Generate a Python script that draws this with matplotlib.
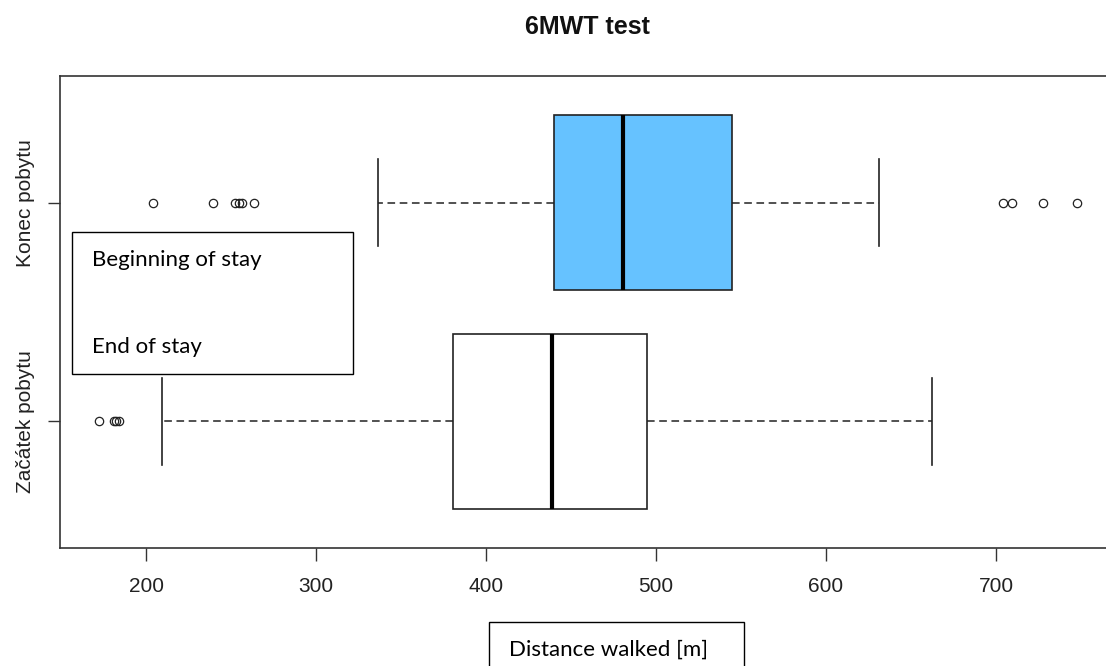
import matplotlib
matplotlib.use("Agg")
import matplotlib.pyplot as plt
from matplotlib.patches import Rectangle

W, H = 1106, 666

# 6MWT distances, summary per group (bottom row first)
groups = ["Začátek pobytu", "Konec pobytu"]
q1 = [380.6, 440.0]
median = [438.8, 480.6]
q3 = [494.7, 544.7]
whisker_lo = [209.2, 336.5]
whisker_hi = [662.5, 631.2]
outliers = [
    [172.4, 181.0, 182.5, 184.0],
    [204.0, 239.4, 252.5, 254.5, 256.5, 263.5, 704.1, 709.4, 727.6, 747.6],
]
box_colors = ["white", "#66C2FF"]
legend_labels = ["Beginning of stay", "End of stay"]
x_ticks = [200, 300, 400, 500, 600, 700]

plt.rcParams["font.family"] = ["Liberation Sans", "DejaVu Sans"]

fig = plt.figure(figsize=(W / 100, H / 100), dpi=100)


def fx(px):
    return px / W


def fy(py):
    return 1 - py / H


# plot region; right side runs past the edge of the canvas
ax = fig.add_axes([fx(60), fy(548), fx(1056), 472 / H])

stats = []
for i, name in enumerate(groups):
    stats.append(dict(label=name, q1=q1[i], med=median[i], q3=q3[i],
                      whislo=whisker_lo[i], whishi=whisker_hi[i],
                      fliers=outliers[i]))

line = dict(color="#222222", lw=1.2)
bp = ax.bxp(stats, positions=[1, 2], widths=0.8, capwidths=0.4, vert=False,
            patch_artist=True,
            boxprops=dict(edgecolor="#222222", lw=1.2),
            medianprops=dict(color="black", lw=3.0, solid_capstyle="butt"),
            whiskerprops=dict(color="#222222", lw=1.1, linestyle=(0, (5, 3))),
            capprops=line,
            flierprops=dict(marker="o", markerfacecolor="none",
                            markeredgecolor="#222222", markersize=6,
                            markeredgewidth=0.9, linestyle="none"))
for patch, c in zip(bp["boxes"], box_colors):
    patch.set_facecolor(c)

ax.set_xlim(149.4, 770.6)
ax.set_ylim(0.42, 2.58)
ax.set_xticks(x_ticks)
ax.set_xticklabels([str(t) for t in x_ticks])
ax.set_yticks([1, 2])
ax.set_yticklabels(groups, rotation=90, va="center")
ax.tick_params(axis="both", length=9, width=1, color="#333333",
               labelsize=15, labelcolor="#222222")
ax.tick_params(axis="x", pad=12)
ax.tick_params(axis="y", pad=9)
for s in ax.spines.values():
    s.set_color("#333333")
    s.set_linewidth(1.2)

fig.text(fx(587), fy(27), "6MWT test", ha="center", va="center",
         fontsize=18, fontweight="bold", color="#111111")

# legend panel
fig.add_artist(Rectangle((fx(72), fy(374)), fx(281), (374 - 232) / H,
                         transform=fig.transFigure, facecolor="white",
                         edgecolor="black", lw=1.0))
fig.text(fx(92), fy(266), legend_labels[0], ha="left", va="baseline",
         fontsize=16, family=["Lato", "DejaVu Sans"])
fig.text(fx(92), fy(353), legend_labels[1], ha="left", va="baseline",
         fontsize=16, family=["Lato", "DejaVu Sans"])

# axis title panel
fig.add_artist(Rectangle((fx(489), fy(680)), fx(255), (680 - 622) / H,
                         transform=fig.transFigure, facecolor="white",
                         edgecolor="black", lw=1.0, clip_on=False))
fig.text(fx(509), fy(656), "Distance walked [m]", ha="left", va="baseline",
         fontsize=16, family=["Lato", "DejaVu Sans"])

fig.savefig("out.png", dpi=100)
